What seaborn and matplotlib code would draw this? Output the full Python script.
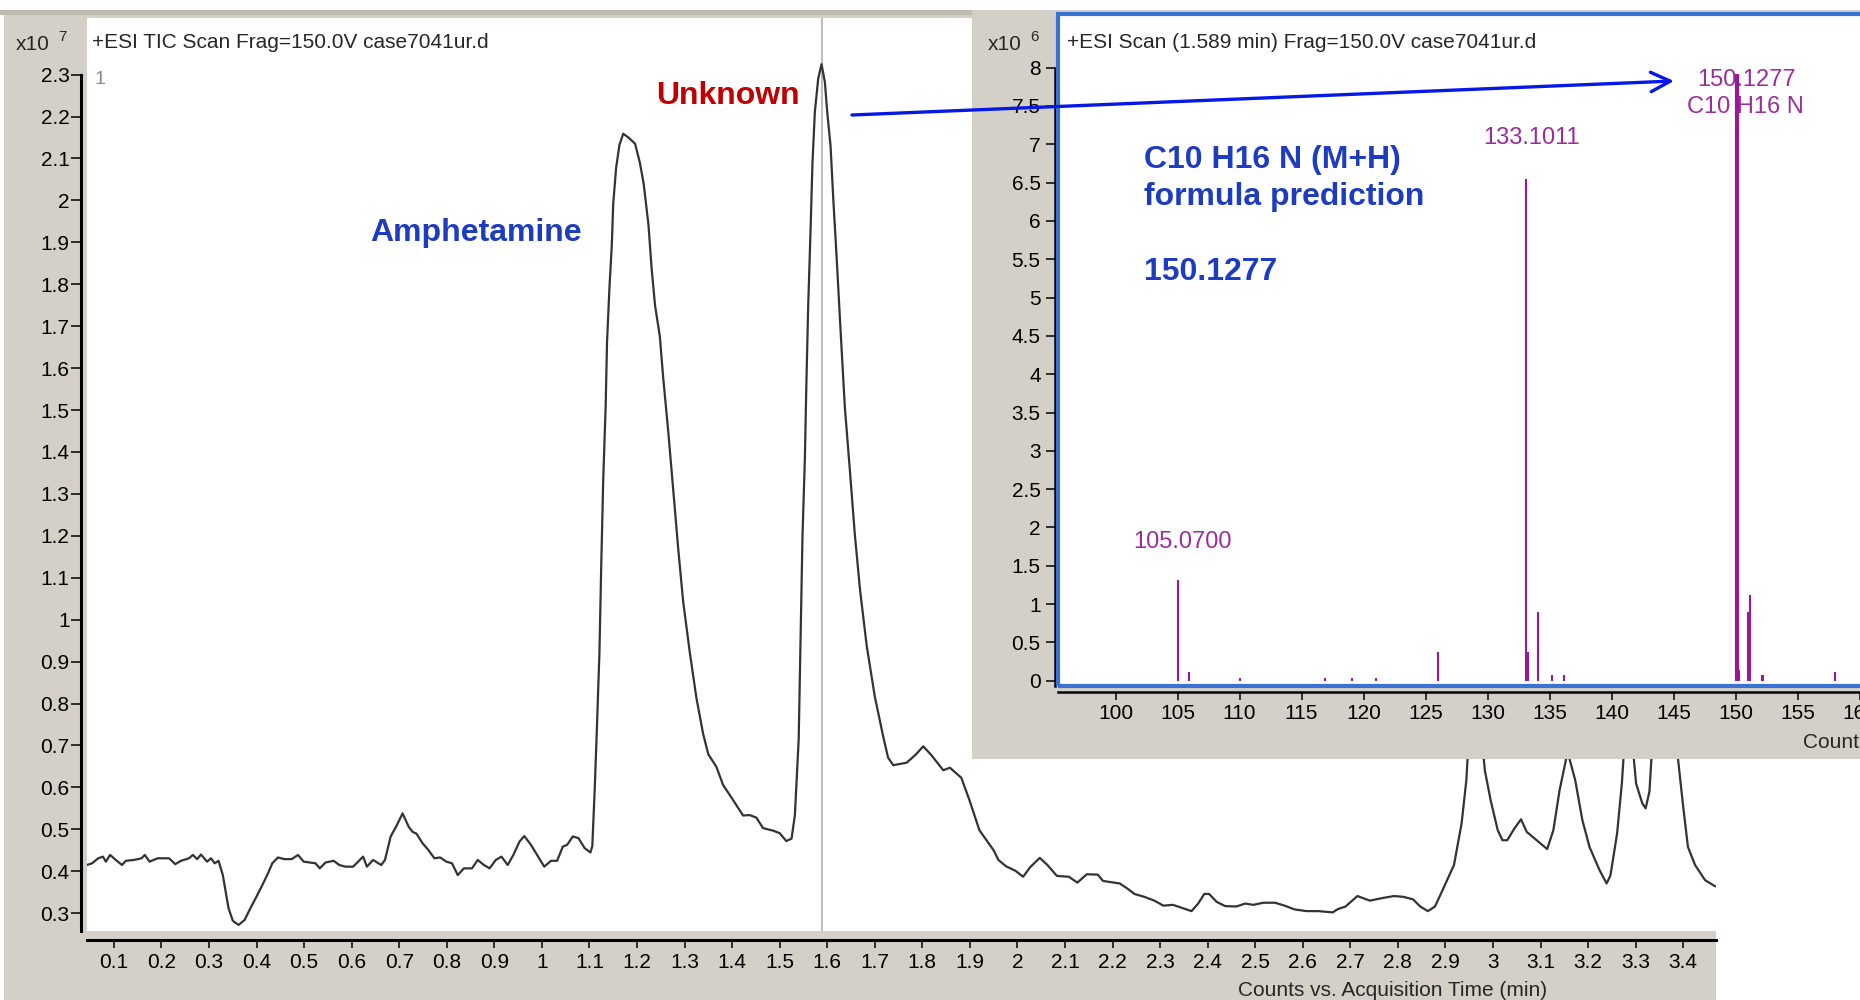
import numpy as np
import pandas as pd
import matplotlib
matplotlib.use('Agg')
import matplotlib.pyplot as plt
import seaborn as sns
from matplotlib.patches import Rectangle, FancyArrowPatch, ArrowStyle

# --- TIC chromatogram (x10^7 counts vs. acquisition time, min) ---
tic_time = [
    0.043, 0.054, 0.067, 0.077, 0.083, 0.092, 0.104, 0.117, 0.125, 0.142,
    0.158, 0.165, 0.175, 0.192, 0.216, 0.229, 0.241, 0.258, 0.266, 0.275,
    0.283, 0.296, 0.304, 0.312, 0.320, 0.329, 0.335, 0.341, 0.350, 0.362,
    0.375, 0.387, 0.400, 0.412, 0.424, 0.433, 0.445, 0.458, 0.474, 0.487,
    0.499, 0.512, 0.524, 0.533, 0.545, 0.562, 0.574, 0.587, 0.603, 0.624,
    0.632, 0.645, 0.662, 0.670, 0.682, 0.695, 0.707, 0.720, 0.728, 0.736,
    0.749, 0.761, 0.774, 0.786, 0.799, 0.811, 0.823, 0.836, 0.853, 0.865,
    0.878, 0.890, 0.903, 0.915, 0.928, 0.940, 0.953, 0.963, 0.977, 0.990,
    1.005, 1.019, 1.032, 1.044, 1.053, 1.065, 1.077, 1.090, 1.102, 1.106,
    1.111, 1.116, 1.121, 1.125, 1.129, 1.134, 1.137, 1.142, 1.147, 1.150,
    1.156, 1.163, 1.171, 1.182, 1.196, 1.206, 1.214, 1.224, 1.231, 1.238,
    1.248, 1.255, 1.266, 1.276, 1.287, 1.297, 1.311, 1.325, 1.339, 1.350,
    1.367, 1.381, 1.402, 1.423, 1.437, 1.451, 1.465, 1.486, 1.500, 1.514,
    1.525, 1.532, 1.540, 1.544, 1.548, 1.553, 1.556, 1.560, 1.565, 1.569,
    1.574, 1.581, 1.588, 1.595, 1.600, 1.607, 1.613, 1.620, 1.627, 1.637,
    1.648, 1.658, 1.669, 1.683, 1.700, 1.718, 1.728, 1.739, 1.767, 1.785,
    1.802, 1.819, 1.844, 1.858, 1.882, 1.899, 1.920, 1.935, 1.950, 1.960,
    1.976, 1.996, 2.012, 2.027, 2.047, 2.063, 2.083, 2.108, 2.126, 2.146,
    2.169, 2.180, 2.215, 2.231, 2.246, 2.267, 2.288, 2.307, 2.327, 2.348,
    2.366, 2.380, 2.393, 2.403, 2.419, 2.437, 2.460, 2.479, 2.496, 2.517,
    2.542, 2.562, 2.583, 2.608, 2.633, 2.663, 2.674, 2.690, 2.715, 2.741,
    2.767, 2.792, 2.812, 2.832, 2.847, 2.863, 2.878, 2.894, 2.918, 2.934,
    2.944, 2.953, 2.963, 2.973, 2.983, 2.995, 3.010, 3.020, 3.030, 3.045,
    3.059, 3.071, 3.092, 3.114, 3.127, 3.140, 3.157, 3.173, 3.188, 3.203,
    3.224, 3.239, 3.247, 3.261, 3.271, 3.282, 3.292, 3.301, 3.314, 3.321,
    3.329, 3.336, 3.350, 3.365, 3.378, 3.388, 3.400, 3.410, 3.425, 3.446,
    3.466, 3.475,
]
tic_counts = [
    0.415, 0.419, 0.431, 0.435, 0.423, 0.439, 0.427, 0.415, 0.425, 0.427,
    0.431, 0.439, 0.423, 0.431, 0.431, 0.417, 0.425, 0.431, 0.439, 0.429,
    0.440, 0.423, 0.431, 0.419, 0.425, 0.391, 0.352, 0.312, 0.282, 0.272,
    0.284, 0.312, 0.340, 0.367, 0.395, 0.419, 0.433, 0.429, 0.429, 0.439,
    0.423, 0.421, 0.419, 0.407, 0.421, 0.425, 0.415, 0.411, 0.411, 0.435,
    0.411, 0.427, 0.415, 0.427, 0.483, 0.510, 0.538, 0.506, 0.494, 0.490,
    0.467, 0.451, 0.431, 0.433, 0.423, 0.419, 0.391, 0.407, 0.407, 0.427,
    0.415, 0.407, 0.427, 0.435, 0.415, 0.439, 0.471, 0.484, 0.463, 0.439,
    0.411, 0.425, 0.425, 0.459, 0.463, 0.483, 0.479, 0.455, 0.445, 0.460,
    0.594, 0.752, 0.922, 1.141, 1.335, 1.506, 1.663, 1.791, 1.894, 1.992,
    2.077, 2.132, 2.159, 2.150, 2.135, 2.090, 2.040, 1.943, 1.834, 1.749,
    1.676, 1.578, 1.445, 1.311, 1.165, 1.044, 0.922, 0.813, 0.728, 0.679,
    0.649, 0.606, 0.570, 0.533, 0.534, 0.528, 0.503, 0.497, 0.491, 0.472,
    0.478, 0.534, 0.715, 0.959, 1.200, 1.384, 1.554, 1.749, 1.931, 2.090,
    2.211, 2.290, 2.325, 2.283, 2.211, 2.130, 1.998, 1.860, 1.712, 1.508,
    1.351, 1.204, 1.071, 0.938, 0.817, 0.720, 0.671, 0.653, 0.659, 0.677,
    0.698, 0.677, 0.641, 0.647, 0.623, 0.570, 0.498, 0.474, 0.450, 0.427,
    0.412, 0.401, 0.387, 0.410, 0.432, 0.415, 0.389, 0.387, 0.373, 0.393,
    0.392, 0.377, 0.371, 0.359, 0.346, 0.339, 0.330, 0.318, 0.320, 0.312,
    0.305, 0.323, 0.346, 0.346, 0.327, 0.317, 0.316, 0.323, 0.320, 0.325,
    0.325, 0.318, 0.309, 0.305, 0.305, 0.302, 0.310, 0.316, 0.341, 0.330,
    0.336, 0.341, 0.339, 0.333, 0.316, 0.305, 0.316, 0.355, 0.415, 0.514,
    0.617, 0.800, 0.950, 0.760, 0.640, 0.570, 0.498, 0.474, 0.474, 0.502,
    0.524, 0.494, 0.474, 0.453, 0.498, 0.593, 0.685, 0.617, 0.522, 0.458,
    0.403, 0.371, 0.390, 0.490, 0.609, 0.800, 0.720, 0.609, 0.562, 0.550,
    0.590, 0.720, 0.880, 0.900, 0.780, 0.680, 0.554, 0.458, 0.415, 0.379,
    0.365, 0.362,
]
scan_time = 1.589

# --- MS spectrum at 1.589 min (x10^6 counts vs. m/z) ---
ms_mz = [105.07, 105.95, 110.0, 116.9, 119.1, 121.0, 126.0, 133.1011, 133.3,
         134.1, 135.2, 136.2, 150.1277, 150.3, 151.0, 151.2, 152.1, 152.25, 158.0]
ms_counts = [1.31, 0.12, 0.04, 0.03, 0.03, 0.03, 0.37, 6.54, 0.37,
             0.90, 0.07, 0.07, 7.92, 0.14, 0.90, 1.12, 0.07, 0.07, 0.12]
peak_labels = ['105.0700', '133.1011', '150.1277', 'C10 H16 N']

main_xticks = np.round(np.arange(0.1, 3.41, 0.1), 1)
main_yticks = np.round(np.arange(0.3, 2.31, 0.1), 1)
ms_xticks = np.arange(100, 161, 5)
ms_yticks = np.round(np.arange(0, 8.01, 0.5), 1)

tic = pd.DataFrame({'time': tic_time, 'counts': tic_counts})

W, H = 1860, 1000
def fx(X):
    return X / W
def fy(Y):
    return 1 - Y / H

sns.set_style('white')
plt.rcParams['font.family'] = ['Liberation Sans', 'DejaVu Sans']

grey = '#D4D0C8'
blue_txt = '#1E3CC0'
purple = '#9B2D9B'

fig = plt.figure(figsize=(18.6, 10), dpi=100, facecolor='white')

# window panels
fig.add_artist(Rectangle((fx(4), fy(1000)), fx(1716) - fx(4), (1000 - 12) / H,
                         transform=fig.transFigure, facecolor=grey, edgecolor='none', zorder=-5))
fig.add_artist(Rectangle((fx(0), fy(15)), fx(972), 5 / H,
                         transform=fig.transFigure, facecolor='#BEBAB2', edgecolor='none', zorder=-4))
fig.add_artist(Rectangle((fx(972), fy(759)), fx(1860) - fx(972), (759 - 10) / H,
                         transform=fig.transFigure, facecolor=grey, edgecolor='none', zorder=0.5))

# ---------- main chromatogram ----------
ax = fig.add_axes([fx(87), fy(931), (1716 - 87) / W, (931 - 18) / H], zorder=0)
ax.set_facecolor('white')
ax.axvline(scan_time, color='#BEBEBE', lw=1.5, zorder=1)
sns.lineplot(data=tic, x='time', y='counts', ax=ax, color='#333333', linewidth=1.6,
             legend=False, zorder=2)
ax.set_xlim(0.0434, 3.469)
ax.set_ylim(0.2576, 2.435)
ax.set_xlabel('')
ax.set_ylabel('')
ax.set_xticks(main_xticks)
ax.set_xticklabels([f'{v:g}' for v in main_xticks])
ax.set_yticks(main_yticks)
ax.set_yticklabels([f'{v:g}' for v in main_yticks])
for s in ['top', 'right']:
    ax.spines[s].set_visible(False)
ax.spines['left'].set_position(('outward', 4.3))
ax.spines['bottom'].set_position(('outward', 6.5))
ax.spines['left'].set_bounds(0.2576, 2.3)
for s in ['left', 'bottom']:
    ax.spines[s].set_color('black')
    ax.spines[s].set_linewidth(2.2)
ax.tick_params(axis='x', bottom=True, direction='out', length=5.8, width=1.1,
               pad=3.2, labelsize=15, colors='black')
ax.tick_params(axis='y', left=True, direction='out', length=7, width=1.1,
               pad=1.2, labelsize=15, colors='black')

# ---------- inset spectrum ----------
ax2 = fig.add_axes([fx(1058), fy(686), (1880 - 1058) / W, (686 - 14) / H], zorder=1)
ax2.set_facecolor('white')
lw = [3.0 if c > 7 else 1.5 for c in ms_counts]
ax2.vlines(ms_mz, 0, ms_counts, colors='#981898', linewidths=lw, zorder=4)
ax2.set_xlim(95.36, 161.65)
ax2.set_ylim(-0.068, 8.699)
ax2.set_xticks(ms_xticks)
ax2.set_xticklabels([f'{v:g}' for v in ms_xticks])
ax2.set_yticks(ms_yticks)
ax2.set_yticklabels([f'{v:g}' for v in ms_yticks])
for s in ['top', 'right']:
    ax2.spines[s].set_visible(False)
ax2.spines['left'].set_position(('outward', 2))
ax2.spines['bottom'].set_position(('outward', 4))
ax2.spines['left'].set_bounds(-0.068, 8)
for s in ['left', 'bottom']:
    ax2.spines[s].set_color('black')
    ax2.spines[s].set_linewidth(1.8)
ax2.tick_params(axis='x', bottom=True, direction='out', length=5.8, width=1.1,
                pad=3, labelsize=15, colors='black')
ax2.tick_params(axis='y', left=True, direction='out', length=6.5, width=1.1,
                pad=4, labelsize=15, colors='black')
ax2.add_patch(Rectangle((0, 0), 1, 1, transform=ax2.transAxes, fill=False,
                        edgecolor='#3A72D4', lw=3, clip_on=False, zorder=5))

# peak labels
ax2.text(105.42, 1.815, peak_labels[0], color=purple, fontsize=17, ha='center', va='center')
ax2.text(133.56, 7.08, peak_labels[1], color=purple, fontsize=17, ha='center', va='center')
ax2.text(150.85, 7.84, peak_labels[2], color=purple, fontsize=17, ha='center', va='center')
ax2.text(150.80, 7.49, peak_labels[3], color=purple, fontsize=17, ha='center', va='center')

# ---------- texts ----------
fig.text(fx(92), fy(43), '+ESI TIC Scan Frag=150.0V case7041ur.d', fontsize=15,
         ha='left', va='center', zorder=6)
fig.text(fx(1067), fy(43), '+ESI Scan (1.589 min) Frag=150.0V case7041ur.d', fontsize=15,
         ha='left', va='center', zorder=6)
fig.text(fx(16), fy(45), 'x10', fontsize=15, ha='left', va='center', zorder=6)
fig.text(fx(58), fy(37), '7', fontsize=11, ha='left', va='center', zorder=6)
fig.text(fx(988), fy(45), 'x10', fontsize=15, ha='left', va='center', zorder=6)
fig.text(fx(1030), fy(37), '6', fontsize=11, ha='left', va='center', zorder=6)
fig.text(fx(94), fy(80), '1', fontsize=14, color='#8C8C8C', ha='left', va='center', zorder=6)
fig.text(fx(1393), fy(990), 'Counts vs. Acquisition Time (min)', fontsize=15,
         ha='center', va='center', zorder=6)
fig.text(fx(1803), fy(743), 'Counts vs. Mass-to-Charge (m/z)', fontsize=15,
         ha='left', va='center', zorder=6)

fig.text(fx(476), fy(233), 'Amphetamine', fontsize=23, fontweight='bold', color=blue_txt,
         ha='center', va='center', zorder=6)
fig.text(fx(728), fy(96), 'Unknown', fontsize=23, fontweight='bold', color='#C00000',
         ha='center', va='center', zorder=6)
fig.text(fx(1144), fy(160), 'C10 H16 N (M+H)', fontsize=23, fontweight='bold', color=blue_txt,
         ha='left', va='center', zorder=6)
fig.text(fx(1144), fy(197), 'formula prediction', fontsize=23, fontweight='bold', color=blue_txt,
         ha='left', va='center', zorder=6)
fig.text(fx(1144), fy(272), '150.1277', fontsize=23, fontweight='bold', color=blue_txt,
         ha='left', va='center', zorder=6)

# arrow from unknown peak to spectrum
arrow = FancyArrowPatch(posA=(fx(852), fy(115)), posB=(fx(1674), fy(81)),
                        transform=fig.transFigure,
                        arrowstyle=ArrowStyle('->', head_length=0.4, head_width=0.2),
                        mutation_scale=35, color='#0518E6', lw=2.4,
                        shrinkA=0, shrinkB=0, zorder=7)
fig.add_artist(arrow)

fig.savefig('out.png', dpi=100)
